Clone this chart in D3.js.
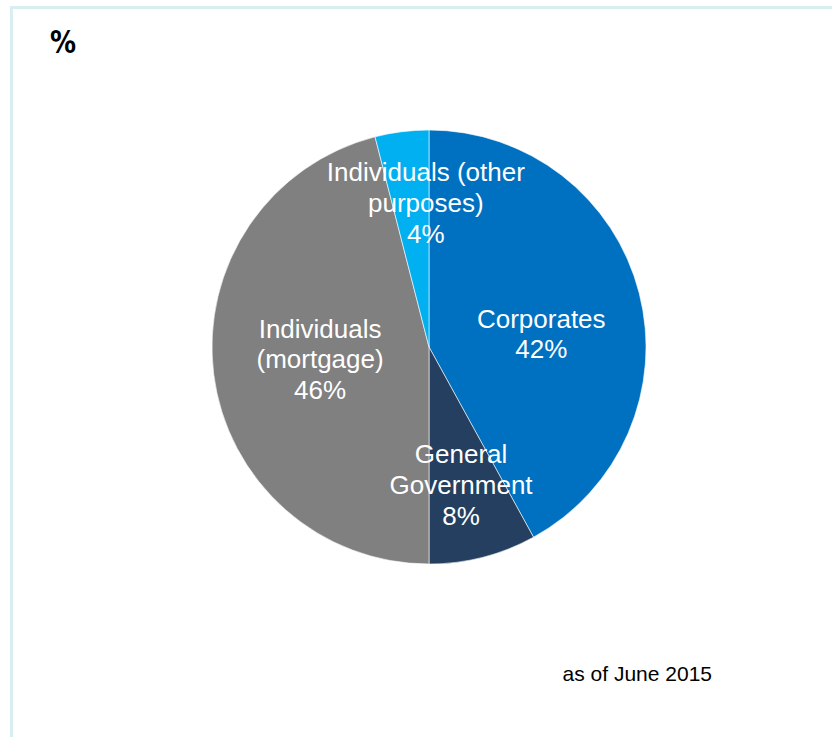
<!DOCTYPE html>
<html>
<head>
<meta charset="utf-8">
<script src="https://cdn.jsdelivr.net/npm/d3@7"></script>
<style>
  html, body { margin: 0; padding: 0; background: #ffffff; }
  svg { display: block; }
</style>
</head>
<body>
<svg id="chart" width="832" height="737"></svg>
<script>
// Loan portfolio breakdown by borrower type (%)
const categories = ["Corporates", "General Government", "Individuals (mortgage)", "Individuals (other purposes)"];
const shares = [42, 8, 46, 4];
const colors = ["#0070c0", "#243f60", "#808080", "#00b0f0"];
// label lines per slice, the value line is added below
const labelLines = [
  ["Corporates"],
  ["General", "Government"],
  ["Individuals", "(mortgage)"],
  ["Individuals (other", "purposes)"]
];
// label placement: fraction of radius and angular nudge (radians) from slice middle
const labelRadius = [0.521, 0.652, 0.505, 0.665];
const labelAngleShift = [0.1335, 0.023, 0.016, 0.1035];

const svg = d3.select("#chart");

// panel frame
svg.append("rect")
  .attr("x", 11.5).attr("y", 7.5)
  .attr("width", 840).attr("height", 760)
  .attr("fill", "none")
  .attr("stroke", "#d8eef1")
  .attr("stroke-width", 3);

svg.append("text")
  .attr("transform", "translate(50,53) scale(1,1.2)")
  .attr("font-family", "'DejaVu Sans', sans-serif")
  .attr("font-weight", "bold")
  .attr("font-size", 26)
  .attr("fill", "#000")
  .text("%");

const cx = 429, cy = 347, r = 217;
const g = svg.append("g").attr("transform", `translate(${cx},${cy})`);

const pie = d3.pie().sort(null).value(d => d)(shares);
const arc = d3.arc().innerRadius(0).outerRadius(r);

g.selectAll("path.slice")
  .data(pie)
  .join("path")
  .attr("class", "slice")
  .attr("d", arc)
  .attr("fill", (d, i) => colors[i])
  .attr("stroke", "#ffffff")
  .attr("stroke-width", 0.6);

const lineH = 30.7;
const labels = g.append("g");
pie.forEach((d, i) => {
  const mid = (d.startAngle + d.endAngle) / 2 + labelAngleShift[i];
  const rr = r * labelRadius[i];
  const lx = Math.sin(mid) * rr;
  const ly = -Math.cos(mid) * rr;
  const lines = labelLines[i].concat([shares[i] + "%"]);
  const top = ly - (lines.length - 1) * lineH / 2;
  const t = labels.append("text")
    .attr("text-anchor", "middle")
    .attr("font-family", "'Liberation Sans', Arial, sans-serif")
    .attr("font-size", 26)
    .attr("fill", "#ffffff");
  lines.forEach((s, k) => {
    t.append("tspan")
      .attr("x", lx)
      .attr("y", top + k * lineH)
      .attr("dy", "0.358em")
      .text(s);
  });
});

svg.append("text")
  .attr("x", 712).attr("y", 681)
  .attr("text-anchor", "end")
  .attr("font-family", "'Liberation Sans', Arial, sans-serif")
  .attr("font-size", 21)
  .attr("fill", "#000")
  .text("as of June 2015");
</script>
</body>
</html>
